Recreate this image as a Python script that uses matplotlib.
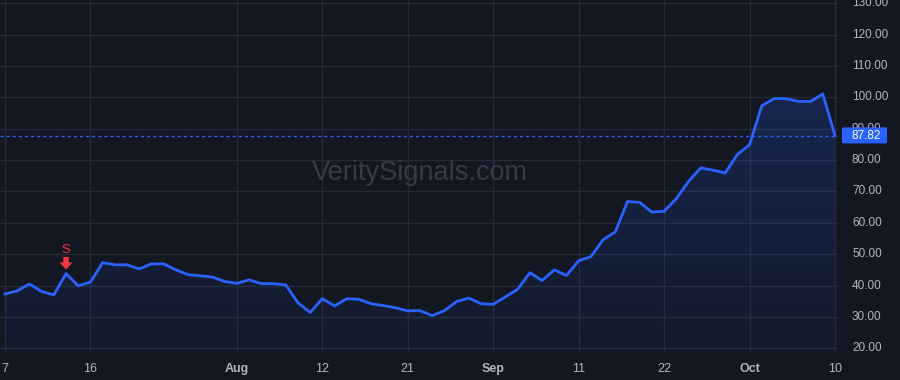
import numpy as np
import pandas as pd
import matplotlib
matplotlib.use("Agg")
import matplotlib.pyplot as plt
from matplotlib.patches import FancyBboxPatch
from matplotlib.colors import LinearSegmentedColormap

# ---------------- data ----------------
start_date = "2025-07-07"
end_date = "2025-10-10"
holidays = ["2025-09-01"]
prices = [37.3, 38.3, 40.5, 38.1, 37.0, 43.8, 39.9, 41.1, 47.3, 46.6,
          46.6, 45.3, 46.9, 46.9, 45.0, 43.5, 43.1, 42.7, 41.3, 40.7,
          41.8, 40.6, 40.6, 40.2, 34.5, 31.4, 35.8, 33.5, 35.8, 35.6,
          34.2, 33.6, 32.9, 31.9, 32.0, 30.4, 32.0, 34.9, 36.0, 34.2,
          34.0, 36.4, 38.8, 44.1, 41.6, 45.0, 43.2, 47.9, 49.2, 54.6,
          57.1, 66.8, 66.5, 63.4, 63.7, 67.7, 73.2, 77.5, 76.8, 75.9,
          81.8, 84.9, 97.3, 99.6, 99.6, 98.7, 98.7, 101.1, 87.82]
tick_dates = ["2025-07-07", "2025-07-16", "2025-08-01", "2025-08-12", "2025-08-21",
              "2025-09-02", "2025-09-11", "2025-09-22", "2025-10-01", "2025-10-10"]
tick_labels = ["7", "16", "Aug", "12", "21", "Sep", "11", "22", "Oct", "10"]
month_labels = ["Aug", "Sep", "Oct"]
y_ticks = [20, 30, 40, 50, 60, 70, 80, 90, 100, 110, 120, 130]
signal_dates = ["2025-07-14"]
signal_labels = ["S"]
last_price = 87.82
watermark = "VeritySignals.com"

# ---------------- derived ----------------
dates = pd.bdate_range(start_date, end_date)
dates = dates[~dates.isin(pd.to_datetime(holidays))]
x = np.arange(len(dates))
y = np.array(prices)
date_index = {d.strftime("%Y-%m-%d"): i for i, d in enumerate(dates)}
tick_pos = [date_index[d] for d in tick_dates]

BG = "#131722"
GRID = "#272b37"
LINE = "#2962ff"
TXT = "#b2b5be"
RED = "#f23645"

W, H = 900, 380
fig = plt.figure(figsize=(9, 3.8), dpi=100, facecolor=BG)

plot_right = 838
plot_bottom = 352
ax = fig.add_axes([0, (H - plot_bottom) / H, plot_right / W, plot_bottom / H])
ax.set_facecolor(BG)

ymin, ymax = 18.8, 131.05
x0 = -0.41
x1 = (plot_right - 5) / ((835 - 5) / 68)
ax.set_xlim(x0, x1)
ax.set_ylim(ymin, ymax)

# grid
for yt in y_ticks:
    ax.axhline(yt, color=GRID, lw=1, zorder=0)
for tp in tick_pos:
    ax.axvline(tp, color=GRID, lw=1, zorder=0)

# gradient fill
poly = ax.fill_between(x, y, ymin, color="none", lw=0)
grad = np.linspace(0, 1, 256).reshape(-1, 1)
cmap = LinearSegmentedColormap.from_list(
    "g", [(0.16, 0.38, 1.0, 0.04), (0.16, 0.38, 1.0, 0.21)])
im = ax.imshow(grad, aspect="auto", cmap=cmap, origin="lower",
               extent=[x0, x1, ymin, y.max()], zorder=1)
path = poly.get_paths()[0]
im.set_clip_path(path, transform=ax.transData)

ax.plot(x, y, color=LINE, lw=2.0, zorder=3, solid_joinstyle="round")
ax.axhline(last_price, color=LINE, lw=1.0, ls=(0, (2.2, 2.2)), zorder=2)

# signal marker
for sd, sl in zip(signal_dates, signal_labels):
    i = date_index[sd]
    ax.annotate("", xy=(i, prices[i]), xytext=(0, 12),
                textcoords="offset points",
                arrowprops=dict(arrowstyle="simple,head_width=0.95,head_length=0.5,tail_width=0.4",
                                color=RED, lw=0, shrinkA=0, shrinkB=3.0), zorder=4)
    ax.annotate(sl, xy=(i, prices[i]), xytext=(0, 17), textcoords="offset points",
                ha="center", va="center", color=RED, fontsize=9.5,
                family="Liberation Sans", zorder=4)

# watermark
ax.text(420 / plot_right, 1 - 173 / plot_bottom, watermark, transform=ax.transAxes,
        ha="center", va="center", color="#373b47", fontsize=19.5,
        family="Liberation Sans", zorder=1)

ax.set_xticks(tick_pos)
ax.set_xticklabels(tick_labels)
ax.set_yticks([])
for lbl in ax.get_xticklabels():
    lbl.set_family("Liberation Sans")
    lbl.set_fontsize(9)
    lbl.set_color(TXT)
    if lbl.get_text() in month_labels:
        lbl.set_fontweight("bold")
ax.tick_params(axis="x", length=0, pad=8)
for s in ax.spines.values():
    s.set_visible(False)

# price scale
pax = fig.add_axes([plot_right / W, (H - plot_bottom) / H, (W - plot_right) / W, plot_bottom / H])
pax.set_xlim(0, W - plot_right)
pax.set_ylim(ymin, ymax)
pax.axis("off")
for yt in y_ticks:
    pax.text(852 - plot_right, yt, f"{yt:.2f}", ha="left", va="center", color=TXT,
             fontsize=8.5, family="Liberation Sans", clip_on=True)
box = FancyBboxPatch((842 - plot_right, last_price - 8 / 3.132 * 0.98), 45, 16 / 3.132,
                     boxstyle="round,pad=0,rounding_size=1.5", fc=LINE, ec="none",
                     mutation_aspect=1 / 3.132, zorder=5, clip_on=False)
pax.add_patch(box)
pax.text(852 - plot_right, last_price, f"{last_price:.2f}", ha="left", va="center",
         color="white", fontsize=8.5, family="Liberation Sans", zorder=6)

fig.savefig("out.png", dpi=100, facecolor=BG)
